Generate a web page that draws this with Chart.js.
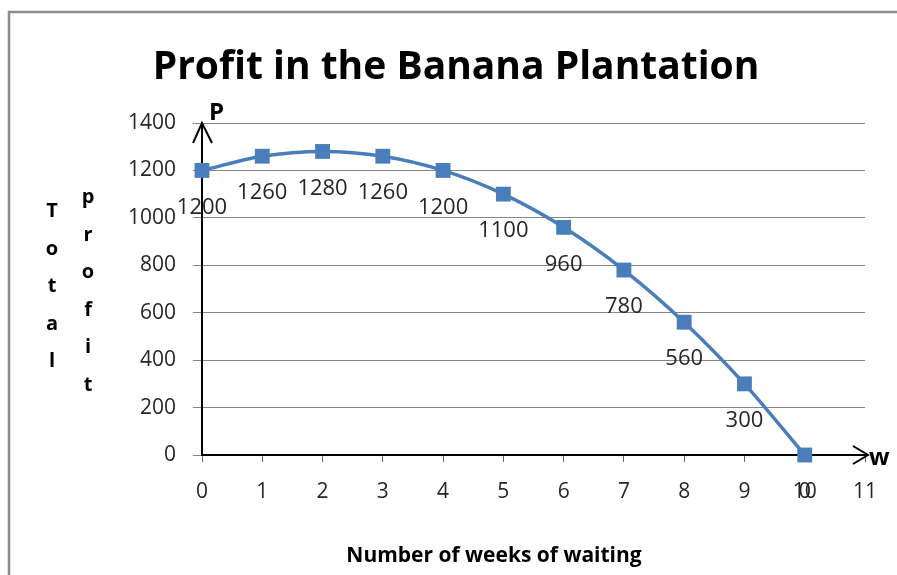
<!DOCTYPE html>
<html>
<head>
<meta charset="utf-8">
<script src="https://cdn.jsdelivr.net/npm/chart.js@4"></script>
<style>
  html, body { margin: 0; padding: 0; background: #fff; }
  #wrap { width: 897px; height: 575px; }
</style>
</head>
<body>
<div id="wrap"><canvas id="profitChart" width="897" height="575"></canvas></div>
<script>
// weeks of waiting and the profit at each week
const weeks   = [0, 1, 2, 3, 4, 5, 6, 7, 8, 9, 10];
const profits = [1200, 1260, 1280, 1260, 1200, 1100, 960, 780, 560, 300, 0];

const titleText  = "Profit in the Banana Plantation";
const xTitleText = "Number of weeks of waiting";
const yTitleCols = ["Total", "profit"];   // stacked letters, one column per word

const FONT = "'Open Sans', 'DejaVu Sans', sans-serif";

document.addEventListener("DOMContentLoaded", () => {
  const points = weeks.map((w, i) => ({ x: w, y: profits[i] }));

  // frame, titles, axis arrows and value labels
  const decor = {
    id: "decor",
    afterDraw(chart) {
      const { ctx, chartArea: a } = chart;
      ctx.save();

      // outer frame (top + left edge)
      ctx.strokeStyle = "#8c8c8c";
      ctx.lineWidth = 2.5;
      ctx.beginPath();
      ctx.moveTo(897, 12);
      ctx.lineTo(9, 12);
      ctx.lineTo(9, 575);
      ctx.stroke();

      // main title
      ctx.fillStyle = "#000";
      ctx.font = `bold 39px ${FONT}`;
      ctx.textAlign = "center";
      ctx.textBaseline = "alphabetic";
      ctx.fillText(titleText, 456, 79);

      // x axis title
      ctx.font = `bold 21px ${FONT}`;
      ctx.fillText(xTitleText, 494, 562);

      // y axis title, letters stacked vertically
      ctx.font = `bold 20px ${FONT}`;
      const colX = [52, 88];
      const colY = [217, 203];
      yTitleCols.forEach((word, c) => {
        [...word].forEach((ch, i) => {
          ctx.fillText(ch, colX[c], colY[c] + i * 37.5);
        });
      });

      // axis arrows
      ctx.strokeStyle = "#000";
      ctx.lineWidth = 2;
      ctx.lineJoin = "miter";
      ctx.beginPath();
      ctx.moveTo(a.left - 9, a.top + 20);
      ctx.lineTo(a.left, a.top);
      ctx.lineTo(a.left + 10, a.top + 20);
      ctx.moveTo(a.right - 4, a.bottom);
      ctx.lineTo(a.right + 3, a.bottom);
      ctx.moveTo(a.right - 12, a.bottom - 9);
      ctx.lineTo(a.right + 3, a.bottom);
      ctx.lineTo(a.right - 12, a.bottom + 9);
      ctx.stroke();

      ctx.font = `bold 24px ${FONT}`;
      ctx.textAlign = "left";
      ctx.fillText("P", 209, 120);
      ctx.fillText("w", 869, 465);

      // value labels under each point
      const meta = chart.getDatasetMeta(0);
      ctx.font = `22px ${FONT}`;
      ctx.fillStyle = "#262626";
      ctx.textAlign = "center";
      ctx.textBaseline = "middle";
      meta.data.forEach((pt, i) => {
        ctx.fillText(String(profits[i]), pt.x, pt.y + 37);
      });

      ctx.restore();
    }
  };

  const ctx = document.getElementById("profitChart").getContext("2d");
  new Chart(ctx, {
    type: "line",
    data: {
      datasets: [{
        label: "Profit",
        data: points,
        borderColor: "#4a7ebb",
        backgroundColor: "#4a7ebb",
        borderWidth: 3.5,
        cubicInterpolationMode: "monotone",
        pointStyle: "rect",
        pointRadius: 10.5,
        pointHoverRadius: 10.5,
        pointBorderWidth: 0,
        clip: false
      }]
    },
    options: {
      responsive: false,
      animation: false,
      layout: { padding: { top: 123, right: 32, left: 0, bottom: 0 } },
      plugins: {
        legend: { display: false },
        title: { display: false },
        tooltip: { enabled: false }
      },
      scales: {
        x: {
          type: "linear",
          min: 0,
          max: 11,
          afterFit: (s) => { s.height = 120; },
          ticks: {
            stepSize: 1,
            padding: 17,
            color: "#262626",
            font: { family: FONT, size: 21 },
            callback: (v) => String(v)
          },
          grid: {
            drawOnChartArea: false,
            drawTicks: true,
            tickLength: 7,
            color: "#666"
          },
          border: { color: "#000", width: 2 }
        },
        y: {
          min: 0,
          max: 1400,
          afterFit: (s) => { s.width = 202; },
          ticks: {
            stepSize: 200,
            padding: 17,
            color: "#262626",
            font: { family: FONT, size: 21 },
            callback: (v) => String(v)
          },
          grid: {
            color: "#868686",
            lineWidth: 1,
            tickLength: 9
          },
          border: { color: "#000", width: 2 }
        }
      }
    },
    plugins: [decor]
  });
});
</script>
</body>
</html>
